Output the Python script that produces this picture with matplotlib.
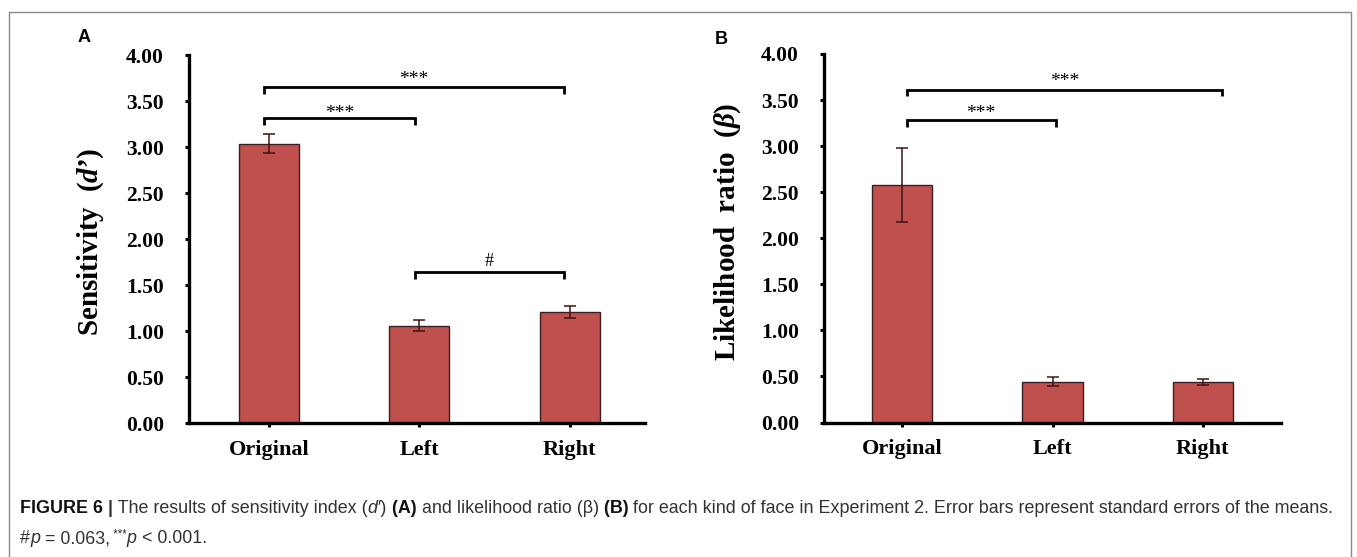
import matplotlib
matplotlib.use("Agg")
import matplotlib.pyplot as plt
from matplotlib.lines import Line2D

# ---------------- data ----------------
categories = ["Original", "Left", "Right"]
dprime = [3.04, 1.06, 1.21]
dprime_se = [0.10, 0.06, 0.065]
beta = [2.58, 0.445, 0.44]
beta_se = [0.40, 0.045, 0.035]
yticks = [0.0, 0.5, 1.0, 1.5, 2.0, 2.5, 3.0, 3.5, 4.0]

# significance brackets: (x_start, x_end, y, label, label_center_y)
sig_a = [(-0.03, 1.96, 3.65, "***", 3.786),
         (-0.03, 0.97, 3.315, "***", 3.42),
         (0.97, 1.96, 1.641, "#", 1.775)]
sig_b = [(0.03, 2.13, 3.61, "***", 3.752),
         (0.03, 1.02, 3.28, "***", 3.404)]

W, H = 1357, 557
plt.rcParams["mathtext.fontset"] = "custom"
plt.rcParams["mathtext.rm"] = "Liberation Serif:bold"
plt.rcParams["mathtext.bf"] = "Liberation Serif:bold"
plt.rcParams["mathtext.it"] = "Liberation Serif:bold:italic"

BAR = "#C0504D"
SERIF = "Liberation Serif"

fig = plt.figure(figsize=(W / 100, H / 100), dpi=100)


def px_axes(left, right, top, bottom):
    return fig.add_axes([left / W, 1 - bottom / H, (right - left) / W, (bottom - top) / H])


def draw_panel(ax, values, errs, sigs, xlim):
    x = list(range(len(categories)))
    ax.bar(x, values, width=0.40, color=BAR, edgecolor="#3a2020", linewidth=1.0, zorder=2)
    for xi, v, e in zip(x, values, errs):
        ax.errorbar(xi, v, yerr=e, fmt="none", ecolor="#3d1414", elinewidth=1.1,
                    capsize=4, capthick=1.1, zorder=3)
    ax.set_xlim(*xlim)
    ax.set_ylim(0, 4.0)
    ax.set_yticks(yticks)
    ax.set_yticklabels([f"{t:.2f}" for t in yticks])
    ax.set_xticks(x)
    ax.set_xticklabels(categories)
    for s in ["top", "right"]:
        ax.spines[s].set_visible(False)
    for s in ["left", "bottom"]:
        ax.spines[s].set_linewidth(2.4)
        ax.spines[s].set_color("black")
    ax.tick_params(axis="y", direction="out", length=3, width=2.2, pad=15)
    ax.tick_params(axis="x", direction="out", length=3, width=2.2, pad=9)
    for lab in ax.get_yticklabels():
        lab.set_fontfamily(SERIF)
        lab.set_fontweight("bold")
        lab.set_fontsize(15.5)
    for lab in ax.get_xticklabels():
        lab.set_fontfamily(SERIF)
        lab.set_fontweight("bold")
        lab.set_fontsize(16)
    drop = 0.07
    for x0, x1, y, lab, ly in sigs:
        ax.plot([x0, x0, x1, x1], [y - drop, y, y, y - drop], color="black", lw=2.0,
                solid_joinstyle="miter", solid_capstyle="butt", clip_on=False, zorder=4)
        frac = 0.47 if "*" in lab else 0.338
        fs = 14 if "*" in lab else 13
        ax.annotate(lab, xy=((x0 + x1) / 2, ly), xytext=(0, -frac * fs),
                    textcoords="offset points", ha="center", va="baseline",
                    fontsize=fs, fontfamily=SERIF, color="black")


axA = px_axes(189, 645, 55.3, 423.3)
draw_panel(axA, dprime, dprime_se, sig_a, (-0.53, 2.50))
axB = px_axes(824, 1281, 54, 422.5)
draw_panel(axB, beta, beta_se, sig_b, (-0.52, 2.52))

fig.text(91 / W, 1 - 242 / H, "Sensitivity  ($d$\u2019)", rotation=90, ha="center", va="center",
         fontsize=21, fontfamily=SERIF, fontweight="bold")
fig.text(727.5 / W, 1 - 232 / H, "Likelihood  ratio  ($\\beta$)", rotation=90, ha="center",
         va="center", fontsize=21, fontfamily=SERIF, fontweight="bold")

fig.text(84 / W, 1 - 38 / H, "A", ha="center", va="center", fontsize=13,
         fontfamily="Liberation Sans", fontweight="bold")
fig.text(721 / W, 1 - 39 / H, "B", ha="center", va="center", fontsize=13,
         fontfamily="Liberation Sans", fontweight="bold")

# border (left, top, right)
bx0, bx1, by0, by1 = 8.5, 1351, 11.5, 557
fig.add_artist(Line2D([bx0 / W, bx0 / W, bx1 / W, bx1 / W],
                      [1 - by1 / H, 1 - by0 / H, 1 - by0 / H, 1 - by1 / H],
                      transform=fig.transFigure, color="#8a8a8a", lw=1.0))

# caption
renderer = fig.canvas.get_renderer()
CAP = "#333333"
line1 = [("FIGURE 6", "bold", "normal", "#111111", 1.0, 0),
         (" |", "bold", "normal", "#333333", 1.0, 0),
         (" The results of sensitivity index (", "normal", "normal", CAP, 1.0, 0),
         ("d", "normal", "italic", CAP, 1.0, 0),
         ("\u2032)", "normal", "normal", CAP, 1.0, 0),
         (" (A)", "bold", "normal", "#111111", 1.0, 0),
         (" and likelihood ratio (\u03b2)", "normal", "normal", CAP, 1.0, 0),
         (" (B)", "bold", "normal", "#111111", 1.0, 0),
         (" for each kind of face in Experiment 2. Error bars represent standard errors of the means.",
          "normal", "normal", CAP, 1.0, 0)]
line2 = [("#", "normal", "normal", CAP, 1.0, 0),
         ("p", "normal", "italic", CAP, 1.0, 0),
         (" = 0.063,", "normal", "normal", CAP, 1.0, 0),
         (" ***", "normal", "normal", CAP, 0.65, 5),
         ("p", "normal", "italic", CAP, 1.0, 0),
         (" < 0.001.", "normal", "normal", CAP, 1.0, 0)]


def draw_line(pieces, x0, ybase, fs):
    x = x0
    texts = []
    for s, wt, st, col, sc, dy in pieces:
        t = fig.text(x / W, 1 - (ybase - dy) / H, s, fontsize=fs * sc, fontweight=wt,
                     fontstyle=st, fontfamily="Liberation Sans", color=col,
                     ha="left", va="baseline")
        bb = t.get_window_extent(renderer)
        x = bb.x1
        texts.append(t)
    return texts, x - x0


cap_x0, cap_x1 = 20, 1336
texts, width = draw_line(line1, cap_x0, 513, 10)
for t in texts:
    t.remove()
cap_fs = 10 * (cap_x1 - cap_x0) / width
draw_line(line1, cap_x0, 513, cap_fs)
draw_line(line2, cap_x0, 543, cap_fs)

fig.savefig("out.png", dpi=100)
